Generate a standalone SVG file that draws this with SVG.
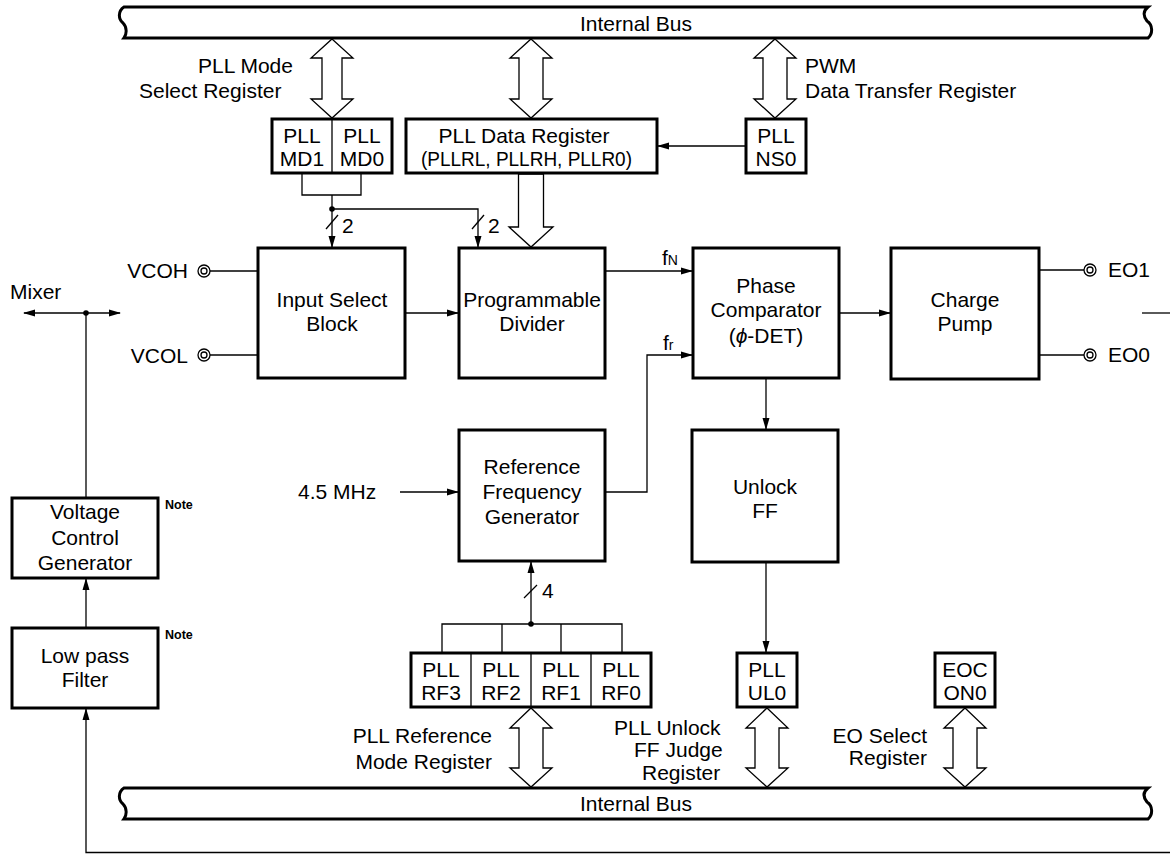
<svg xmlns="http://www.w3.org/2000/svg" width="1170" height="854" viewBox="0 0 1170 854">
<defs>
<style>
text{font-family:"Liberation Sans",Arial,sans-serif;font-size:21px;fill:#000}
.c{text-anchor:middle}
.e{text-anchor:end}
.box{fill:#fff;stroke:#000;stroke-width:3}
.div{fill:none;stroke:#000;stroke-width:1.3}
.ln{fill:none;stroke:#000;stroke-width:1.3}
.bus{fill:#fff;stroke:#000;stroke-width:3}
.ha{fill:#fff;stroke:#000;stroke-width:1.3}
.note{font-size:12.5px;font-weight:bold}
.term{fill:#fff;stroke:#000;stroke-width:1.3}
.sub{font-size:14px}
</style>
<marker id="ah" markerWidth="12" markerHeight="10" refX="11" refY="5" orient="auto" markerUnits="userSpaceOnUse"><path d="M0,1.5 L12,5 L0,8.5 Z" fill="#000"/></marker>
</defs>
<rect width="1170" height="854" fill="#fff"/>

<g id="bus-top">
<path class="bus" d="M124,7 L1148,7 C1143,11 1143,16 1147,21 C1153,25 1153,34 1148,38 L124,38 C127,34 127,27 123,23 C118,19 118,11 124,7 Z"/>
<text class="c" x="636" y="31">Internal Bus</text>
</g>
<g id="bus-bottom">
<path class="bus" d="M124,788 L1148,788 C1143,792 1143,797 1147,802 C1153,806 1153,815 1148,819 L124,819 C127,815 127,808 123,804 C118,800 118,792 124,788 Z"/>
<text class="c" x="636" y="811">Internal Bus</text>
</g>

<g id="connectors">
<polygon class="ha" points="332,39 353,58 342,58 342,99 353,99 332,118 311,99 322,99 322,58 311,58"/>
<polygon class="ha" points="531,39 552,58 543,58 543,99 552,99 531,118 510,99 519,99 519,58 510,58"/>
<polygon class="ha" points="775,39 796,58 787,58 787,99 796,99 775,118 754,99 763,99 763,58 754,58"/>
<polygon class="ha" points="518.5,174 543.5,174 543.5,227 553,227 531,247 509,227 518.5,227"/>
<polygon class="ha" points="531,708 552,728 543,728 543,768 552,768 531,787 510,768 519,768 519,728 510,728"/>
<polygon class="ha" points="767,708 788,728 779,728 779,768 788,768 767,787 746,768 755,768 755,728 746,728"/>
<polygon class="ha" points="965,708 986,728 977,728 977,768 986,768 965,787 944,768 953,768 953,728 944,728"/>

<path class="ln" d="M302,174 V195 H361 V174"/>
<path class="ln" d="M332,195 V247" marker-end="url(#ah)"/>
<path class="ln" d="M332,209 H478 V247" marker-end="url(#ah)"/>
<circle cx="332" cy="209" r="2.8" fill="#000"/>
<line class="ln" x1="326" y1="229" x2="338" y2="215"/>
<line class="ln" x1="472" y1="229" x2="484" y2="215"/>
<text x="342" y="233">2</text>
<text x="488" y="233">2</text>

<path class="ln" d="M746,146 H658" marker-end="url(#ah)"/>

<path class="ln" d="M210,271 H258"/>
<path class="ln" d="M210,355 H258"/>
<path class="ln" d="M405,313 H458" marker-end="url(#ah)"/>
<path class="ln" d="M605,271 H692" marker-end="url(#ah)"/>
<path class="ln" d="M605,492 H647 V355 H692" marker-end="url(#ah)"/>
<path class="ln" d="M839,313 H890" marker-end="url(#ah)"/>
<path class="ln" d="M1039,270 H1084"/>
<path class="ln" d="M1039,355 H1084"/>
<path class="ln" d="M1142,313 H1170"/>
<path class="ln" d="M766,378 V429" marker-end="url(#ah)"/>
<path class="ln" d="M766,562 V652" marker-end="url(#ah)"/>
<path class="ln" d="M400,492 H458" marker-end="url(#ah)"/>

<path class="ln" d="M442,653 V624 H622 V653"/>
<path class="ln" d="M502,624 V653"/>
<path class="ln" d="M561,624 V653"/>
<path class="ln" d="M531,624 V562" marker-end="url(#ah)"/>
<circle cx="531" cy="624" r="2.8" fill="#000"/>
<line class="ln" x1="524" y1="598" x2="537" y2="585"/>
<text x="542" y="598">4</text>

<path class="ln" d="M86,313 H24" marker-end="url(#ah)"/>
<path class="ln" d="M86,313 H120" marker-end="url(#ah)"/>
<circle cx="86" cy="313" r="2.8" fill="#000"/>
<path class="ln" d="M86,498 V313"/>
<path class="ln" d="M86,628 V579" marker-end="url(#ah)"/>
<path class="ln" d="M1170,852.5 H86 V709" marker-end="url(#ah)"/>
</g>

<g id="terminals">
<circle class="term" cx="204" cy="271" r="6"/><circle class="term" cx="204" cy="271" r="3"/>
<circle class="term" cx="204" cy="355" r="6"/><circle class="term" cx="204" cy="355" r="3"/>
<circle class="term" cx="1090" cy="270" r="6"/><circle class="term" cx="1090" cy="270" r="3"/>
<circle class="term" cx="1090" cy="355" r="6"/><circle class="term" cx="1090" cy="355" r="3"/>
<text class="e" x="188" y="278">VCOH</text>
<text class="e" x="188" y="363">VCOL</text>
<text x="1108" y="277">EO1</text>
<text x="1108" y="362">EO0</text>
<text x="10" y="299">Mixer</text>
<text x="298" y="499">4.5 MHz</text>
<text x="662" y="265">f<tspan class="sub">N</tspan></text>
<text x="663" y="350">f<tspan class="sub">r</tspan></text>
</g>

<g id="labels">
<text x="198" y="73">PLL Mode</text>
<text x="139" y="98">Select Register</text>
<text x="805" y="73">PWM</text>
<text x="805" y="98">Data Transfer Register</text>
<text class="e" x="492" y="743">PLL Reference</text>
<text class="e" x="492" y="769">Mode Register</text>
<text x="614" y="735">PLL Unlock</text>
<text x="634" y="757">FF Judge</text>
<text x="642" y="780">Register</text>
<text class="e" x="927" y="743">EO Select</text>
<text class="e" x="927" y="765">Register</text>
</g>

<g id="pll-md">
<rect class="box" x="272" y="119" width="120" height="54"/>
<line class="div" x1="332" y1="119" x2="332" y2="173"/>
<text class="c" x="302" y="143">PLL</text><text class="c" x="302" y="166">MD1</text>
<text class="c" x="362" y="143">PLL</text><text class="c" x="362" y="166">MD0</text>
</g>
<g id="pll-data-register">
<rect class="box" x="406" y="119" width="251" height="54"/>
<text class="c" x="524" y="143">PLL Data Register</text>
<text x="421" y="166" textLength="211" lengthAdjust="spacingAndGlyphs">(PLLRL, PLLRH, PLLR0)</text>
</g>
<g id="pll-ns0">
<rect class="box" x="746" y="119" width="60" height="54"/>
<text class="c" x="776" y="143">PLL</text><text class="c" x="776" y="166">NS0</text>
</g>
<g id="input-select">
<rect class="box" x="258" y="248" width="147" height="130"/>
<text class="c" x="332" y="307">Input Select</text>
<text class="c" x="332" y="331">Block</text>
</g>
<g id="prog-divider">
<rect class="box" x="459" y="248" width="146" height="130"/>
<text class="c" x="532" y="307">Programmable</text>
<text class="c" x="532" y="331">Divider</text>
</g>
<g id="phase-comparator">
<rect class="box" x="693" y="248" width="146" height="130"/>
<text class="c" x="766" y="293">Phase</text>
<text class="c" x="766" y="317">Comparator</text>
<text class="c" x="766" y="343">(<tspan font-style="italic">ϕ</tspan>-DET)</text>
</g>
<g id="charge-pump">
<rect class="box" x="891" y="248" width="148" height="131"/>
<text class="c" x="965" y="307">Charge</text>
<text class="c" x="965" y="331">Pump</text>
</g>
<g id="ref-freq-gen">
<rect class="box" x="459" y="430" width="146" height="131"/>
<text class="c" x="532" y="474">Reference</text>
<text class="c" x="532" y="499">Frequency</text>
<text class="c" x="532" y="524">Generator</text>
</g>
<g id="unlock-ff">
<rect class="box" x="692" y="430" width="146" height="132"/>
<text class="c" x="765" y="494">Unlock</text>
<text class="c" x="765" y="518">FF</text>
</g>
<g id="vcg">
<rect class="box" x="12" y="498" width="146" height="80"/>
<text class="c" x="85" y="519">Voltage</text>
<text class="c" x="85" y="545">Control</text>
<text class="c" x="85" y="570">Generator</text>
<text class="note" x="165" y="509">Note</text>
</g>
<g id="lpf">
<rect class="box" x="12" y="628" width="146" height="80"/>
<text class="c" x="85" y="663">Low pass</text>
<text class="c" x="85" y="687">Filter</text>
<text class="note" x="165" y="639">Note</text>
</g>
<g id="pll-rf">
<rect class="box" x="411" y="653" width="240" height="54"/>
<line class="div" x1="471" y1="653" x2="471" y2="707"/>
<line class="div" x1="531" y1="653" x2="531" y2="707"/>
<line class="div" x1="591" y1="653" x2="591" y2="707"/>
<text class="c" x="441" y="677">PLL</text><text class="c" x="441" y="700">RF3</text>
<text class="c" x="501" y="677">PLL</text><text class="c" x="501" y="700">RF2</text>
<text class="c" x="561" y="677">PLL</text><text class="c" x="561" y="700">RF1</text>
<text class="c" x="621" y="677">PLL</text><text class="c" x="621" y="700">RF0</text>
</g>
<g id="pll-ul0">
<rect class="box" x="737" y="653" width="60" height="54"/>
<text class="c" x="767" y="677">PLL</text><text class="c" x="767" y="700">UL0</text>
</g>
<g id="eocon0">
<rect class="box" x="935" y="653" width="60" height="54"/>
<text class="c" x="965" y="677">EOC</text><text class="c" x="965" y="700">ON0</text>
</g>
</svg>
